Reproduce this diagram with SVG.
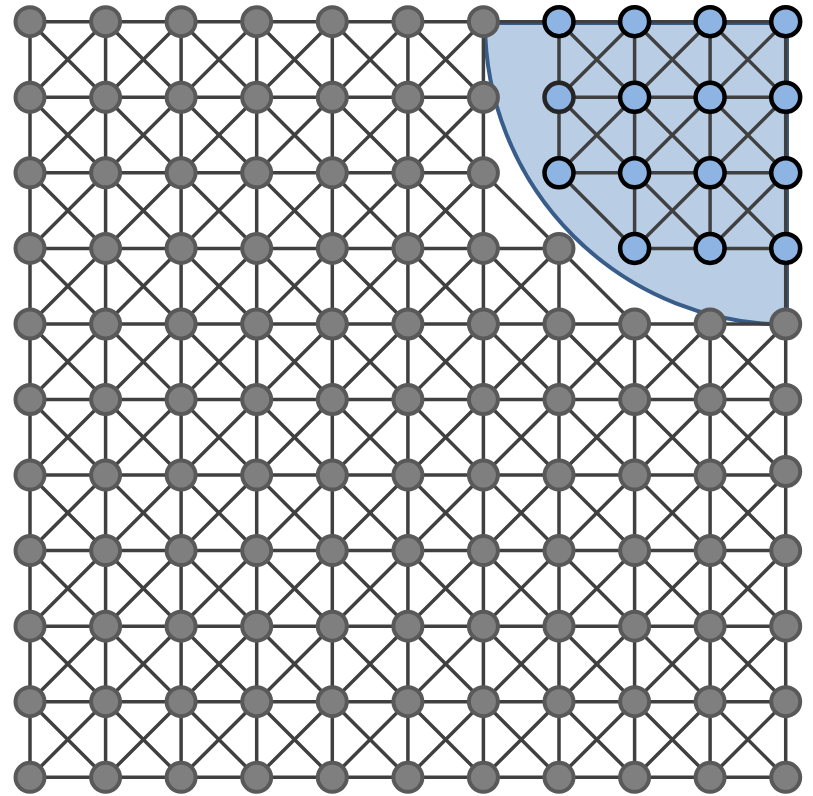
<svg xmlns="http://www.w3.org/2000/svg" width="813" height="796" viewBox="0 0 813 796">
<style>
.g{fill:#7f7f7f;stroke:#595959;stroke-width:4}
.b{fill:#8db4e2;stroke:#000;stroke-width:4.5}
.e{fill:none;stroke:#404040;stroke-width:3.5;stroke-linecap:butt}
</style>
<rect width="813" height="796" fill="#fff"/>
<g id="region">
<path d="M484.5 23 H787 V324.5 A302 302 0 0 1 485 23 Z" fill="#b9cde5" stroke="#385d8a" stroke-width="4"/>
</g>
<g id="connectors" class="e">
<path d="M30 21.7H785.7 M30 97.3H483.4 M559 97.3H785.7 M30 172.8H483.4 M559 172.8H785.7 M30 248.4H559 M634.6 248.4H785.7 M30 324H785.7 M30 399.5H785.7 M30 475.1H785.7 M30 550.6H785.7 M30 626.2H785.7 M30 701.7H785.7 M30 777.3H785.7"/>
<path d="M30 21.7V777.3 M105.6 21.7V777.3 M181.1 21.7V777.3 M256.7 21.7V777.3 M332.3 21.7V777.3 M407.9 21.7V777.3 M483.4 21.7V777.3 M559 21.7V172.8 M559 248.4V777.3 M634.6 21.7V248.4 M634.6 324V777.3 M710.1 21.7V248.4 M710.1 324V777.3 M785.7 21.7V777.3"/>
<path d="M710.1 21.7L785.7 97.3 M634.6 21.7L785.7 172.8 M559 21.7L785.7 248.4 M559 97.3L710.1 248.4 M407.9 21.7L483.4 97.3 M559 172.8L634.6 248.4 M710.1 324L785.7 399.5 M332.3 21.7L785.7 475.1 M256.7 21.7L785.7 550.6 M181.1 21.7L785.7 626.2 M105.6 21.7L785.7 701.7 M30 21.7L785.7 777.3 M30 97.3L710.1 777.3 M30 172.8L634.6 777.3 M30 248.4L559 777.3 M30 324L483.4 777.3 M30 399.5L407.9 777.3 M30 475.1L332.3 777.3 M30 550.6L256.7 777.3 M30 626.2L181.1 777.3 M30 701.7L105.6 777.3"/>
<path d="M105.6 21.7L30 97.3 M181.1 21.7L30 172.8 M256.7 21.7L30 248.4 M332.3 21.7L30 324 M407.9 21.7L30 399.5 M483.4 21.7L30 475.1 M483.4 97.3L30 550.6 M634.6 21.7L559 97.3 M483.4 172.8L30 626.2 M710.1 21.7L559 172.8 M483.4 248.4L30 701.7 M785.7 21.7L634.6 172.8 M559 248.4L30 777.3 M785.7 97.3L634.6 248.4 M559 324L105.6 777.3 M785.7 172.8L710.1 248.4 M634.6 324L181.1 777.3 M710.1 324L256.7 777.3 M785.7 324L332.3 777.3 M785.7 399.5L407.9 777.3 M785.7 475.1L483.4 777.3 M785.7 550.6L559 777.3 M785.7 626.2L634.6 777.3 M785.7 701.7L710.1 777.3"/>
</g>
<g id="nodes">
<g id="n0-0"><circle class="g" cx="30" cy="21.7" r="14.5"/></g>
<g id="n1-0"><circle class="g" cx="105.6" cy="21.7" r="14.5"/></g>
<g id="n2-0"><circle class="g" cx="181.1" cy="21.7" r="14.5"/></g>
<g id="n3-0"><circle class="g" cx="256.7" cy="21.7" r="14.5"/></g>
<g id="n4-0"><circle class="g" cx="332.3" cy="21.7" r="14.5"/></g>
<g id="n5-0"><circle class="g" cx="407.9" cy="21.7" r="14.5"/></g>
<g id="n6-0"><circle class="g" cx="483.4" cy="21.7" r="14.5"/></g>
<g id="n7-0"><circle class="b" cx="559" cy="21.7" r="14.5"/></g>
<g id="n8-0"><circle class="b" cx="634.6" cy="21.7" r="14.5"/></g>
<g id="n9-0"><circle class="b" cx="710.1" cy="21.7" r="14.5"/></g>
<g id="n10-0"><circle class="b" cx="785.7" cy="21.7" r="14.5"/></g>
<g id="n0-1"><circle class="g" cx="30" cy="97.3" r="14.5"/></g>
<g id="n1-1"><circle class="g" cx="105.6" cy="97.3" r="14.5"/></g>
<g id="n2-1"><circle class="g" cx="181.1" cy="97.3" r="14.5"/></g>
<g id="n3-1"><circle class="g" cx="256.7" cy="97.3" r="14.5"/></g>
<g id="n4-1"><circle class="g" cx="332.3" cy="97.3" r="14.5"/></g>
<g id="n5-1"><circle class="g" cx="407.9" cy="97.3" r="14.5"/></g>
<g id="n6-1"><circle class="g" cx="483.4" cy="97.3" r="14.5"/></g>
<g id="n7-1"><circle class="b" cx="559" cy="97.3" r="14.5" style="stroke:#262626"/></g>
<g id="n8-1"><circle class="b" cx="634.6" cy="97.3" r="14.5"/></g>
<g id="n9-1"><circle class="b" cx="710.1" cy="97.3" r="14.5"/></g>
<g id="n10-1"><circle class="b" cx="785.7" cy="97.3" r="14.5"/></g>
<g id="n0-2"><circle class="g" cx="30" cy="172.8" r="14.5"/></g>
<g id="n1-2"><circle class="g" cx="105.6" cy="172.8" r="14.5"/></g>
<g id="n2-2"><circle class="g" cx="181.1" cy="172.8" r="14.5"/></g>
<g id="n3-2"><circle class="g" cx="256.7" cy="172.8" r="14.5"/></g>
<g id="n4-2"><circle class="g" cx="332.3" cy="172.8" r="14.5"/></g>
<g id="n5-2"><circle class="g" cx="407.9" cy="172.8" r="14.5"/></g>
<g id="n6-2"><circle class="g" cx="483.4" cy="172.8" r="14.5"/></g>
<g id="n7-2"><circle class="b" cx="559" cy="172.8" r="14.5"/></g>
<g id="n8-2"><circle class="b" cx="634.6" cy="172.8" r="14.5"/></g>
<g id="n9-2"><circle class="b" cx="710.1" cy="172.8" r="14.5"/></g>
<g id="n10-2"><circle class="b" cx="785.7" cy="172.8" r="14.5"/></g>
<g id="n0-3"><circle class="g" cx="30" cy="248.4" r="14.5"/></g>
<g id="n1-3"><circle class="g" cx="105.6" cy="248.4" r="14.5"/></g>
<g id="n2-3"><circle class="g" cx="181.1" cy="248.4" r="14.5"/></g>
<g id="n3-3"><circle class="g" cx="256.7" cy="248.4" r="14.5"/></g>
<g id="n4-3"><circle class="g" cx="332.3" cy="248.4" r="14.5"/></g>
<g id="n5-3"><circle class="g" cx="407.9" cy="248.4" r="14.5"/></g>
<g id="n6-3"><circle class="g" cx="483.4" cy="248.4" r="14.5"/></g>
<g id="n7-3"><circle class="g" cx="559" cy="248.4" r="14.5"/></g>
<g id="n8-3"><circle class="b" cx="634.6" cy="248.4" r="14.5"/></g>
<g id="n9-3"><circle class="b" cx="710.1" cy="248.4" r="14.5"/></g>
<g id="n10-3"><circle class="b" cx="785.7" cy="248.4" r="14.5"/></g>
<g id="n0-4"><circle class="g" cx="30" cy="324" r="14.5"/></g>
<g id="n1-4"><circle class="g" cx="105.6" cy="324" r="14.5"/></g>
<g id="n2-4"><circle class="g" cx="181.1" cy="324" r="14.5"/></g>
<g id="n3-4"><circle class="g" cx="256.7" cy="324" r="14.5"/></g>
<g id="n4-4"><circle class="g" cx="332.3" cy="324" r="14.5"/></g>
<g id="n5-4"><circle class="g" cx="407.9" cy="324" r="14.5"/></g>
<g id="n6-4"><circle class="g" cx="483.4" cy="324" r="14.5"/></g>
<g id="n7-4"><circle class="g" cx="559" cy="324" r="14.5"/></g>
<g id="n8-4"><circle class="g" cx="634.6" cy="324" r="14.5"/></g>
<g id="n9-4"><circle class="g" cx="710.1" cy="324" r="14.5"/></g>
<g id="n10-4"><circle class="g" cx="785.7" cy="324" r="14.5"/></g>
<g id="n0-5"><circle class="g" cx="30" cy="399.5" r="14.5"/></g>
<g id="n1-5"><circle class="g" cx="105.6" cy="399.5" r="14.5"/></g>
<g id="n2-5"><circle class="g" cx="181.1" cy="399.5" r="14.5"/></g>
<g id="n3-5"><circle class="g" cx="256.7" cy="399.5" r="14.5"/></g>
<g id="n4-5"><circle class="g" cx="332.3" cy="399.5" r="14.5"/></g>
<g id="n5-5"><circle class="g" cx="407.9" cy="399.5" r="14.5"/></g>
<g id="n6-5"><circle class="g" cx="483.4" cy="399.5" r="14.5"/></g>
<g id="n7-5"><circle class="g" cx="559" cy="399.5" r="14.5"/></g>
<g id="n8-5"><circle class="g" cx="634.6" cy="399.5" r="14.5"/></g>
<g id="n9-5"><circle class="g" cx="710.1" cy="399.5" r="14.5"/></g>
<g id="n10-5"><circle class="g" cx="785.7" cy="399.5" r="14.5"/></g>
<g id="n0-6"><circle class="g" cx="30" cy="475.1" r="14.5"/></g>
<g id="n1-6"><circle class="g" cx="105.6" cy="475.1" r="14.5"/></g>
<g id="n2-6"><circle class="g" cx="181.1" cy="475.1" r="14.5"/></g>
<g id="n3-6"><circle class="g" cx="256.7" cy="475.1" r="14.5"/></g>
<g id="n4-6"><circle class="g" cx="332.3" cy="475.1" r="14.5"/></g>
<g id="n5-6"><circle class="g" cx="407.9" cy="475.1" r="14.5"/></g>
<g id="n6-6"><circle class="g" cx="483.4" cy="475.1" r="14.5"/></g>
<g id="n7-6"><circle class="g" cx="559" cy="475.1" r="14.5"/></g>
<g id="n8-6"><circle class="g" cx="634.6" cy="475.1" r="14.5"/></g>
<g id="n9-6"><circle class="g" cx="710.1" cy="475.1" r="14.5"/></g>
<g id="n10-6"><circle class="g" cx="785.7" cy="471.5" r="14.5"/></g>
<g id="n0-7"><circle class="g" cx="30" cy="550.6" r="14.5"/></g>
<g id="n1-7"><circle class="g" cx="105.6" cy="550.6" r="14.5"/></g>
<g id="n2-7"><circle class="g" cx="181.1" cy="550.6" r="14.5"/></g>
<g id="n3-7"><circle class="g" cx="256.7" cy="550.6" r="14.5"/></g>
<g id="n4-7"><circle class="g" cx="332.3" cy="550.6" r="14.5"/></g>
<g id="n5-7"><circle class="g" cx="407.9" cy="550.6" r="14.5"/></g>
<g id="n6-7"><circle class="g" cx="483.4" cy="550.6" r="14.5"/></g>
<g id="n7-7"><circle class="g" cx="559" cy="550.6" r="14.5"/></g>
<g id="n8-7"><circle class="g" cx="634.6" cy="550.6" r="14.5"/></g>
<g id="n9-7"><circle class="g" cx="710.1" cy="550.6" r="14.5"/></g>
<g id="n10-7"><circle class="g" cx="785.7" cy="550.6" r="14.5"/></g>
<g id="n0-8"><circle class="g" cx="30" cy="626.2" r="14.5"/></g>
<g id="n1-8"><circle class="g" cx="105.6" cy="626.2" r="14.5"/></g>
<g id="n2-8"><circle class="g" cx="181.1" cy="626.2" r="14.5"/></g>
<g id="n3-8"><circle class="g" cx="256.7" cy="626.2" r="14.5"/></g>
<g id="n4-8"><circle class="g" cx="332.3" cy="626.2" r="14.5"/></g>
<g id="n5-8"><circle class="g" cx="407.9" cy="626.2" r="14.5"/></g>
<g id="n6-8"><circle class="g" cx="483.4" cy="626.2" r="14.5"/></g>
<g id="n7-8"><circle class="g" cx="559" cy="626.2" r="14.5"/></g>
<g id="n8-8"><circle class="g" cx="634.6" cy="626.2" r="14.5"/></g>
<g id="n9-8"><circle class="g" cx="710.1" cy="626.2" r="14.5"/></g>
<g id="n10-8"><circle class="g" cx="785.7" cy="626.2" r="14.5"/></g>
<g id="n0-9"><circle class="g" cx="30" cy="701.7" r="14.5"/></g>
<g id="n1-9"><circle class="g" cx="105.6" cy="701.7" r="14.5"/></g>
<g id="n2-9"><circle class="g" cx="181.1" cy="701.7" r="14.5"/></g>
<g id="n3-9"><circle class="g" cx="256.7" cy="701.7" r="14.5"/></g>
<g id="n4-9"><circle class="g" cx="332.3" cy="701.7" r="14.5"/></g>
<g id="n5-9"><circle class="g" cx="407.9" cy="701.7" r="14.5"/></g>
<g id="n6-9"><circle class="g" cx="483.4" cy="701.7" r="14.5"/></g>
<g id="n7-9"><circle class="g" cx="559" cy="701.7" r="14.5"/></g>
<g id="n8-9"><circle class="g" cx="634.6" cy="701.7" r="14.5"/></g>
<g id="n9-9"><circle class="g" cx="710.1" cy="701.7" r="14.5"/></g>
<g id="n10-9"><circle class="g" cx="785.7" cy="701.7" r="14.5"/></g>
<g id="n0-10"><circle class="g" cx="30" cy="777.3" r="14.5"/></g>
<g id="n1-10"><circle class="g" cx="105.6" cy="777.3" r="14.5"/></g>
<g id="n2-10"><circle class="g" cx="181.1" cy="777.3" r="14.5"/></g>
<g id="n3-10"><circle class="g" cx="256.7" cy="777.3" r="14.5"/></g>
<g id="n4-10"><circle class="g" cx="332.3" cy="777.3" r="14.5"/></g>
<g id="n5-10"><circle class="g" cx="407.9" cy="777.3" r="14.5"/></g>
<g id="n6-10"><circle class="g" cx="483.4" cy="777.3" r="14.5"/></g>
<g id="n7-10"><circle class="g" cx="559" cy="777.3" r="14.5"/></g>
<g id="n8-10"><circle class="g" cx="634.6" cy="777.3" r="14.5"/></g>
<g id="n9-10"><circle class="g" cx="710.1" cy="777.3" r="14.5"/></g>
<g id="n10-10"><circle class="g" cx="785.7" cy="777.3" r="14.5"/></g>
</g>
</svg>
